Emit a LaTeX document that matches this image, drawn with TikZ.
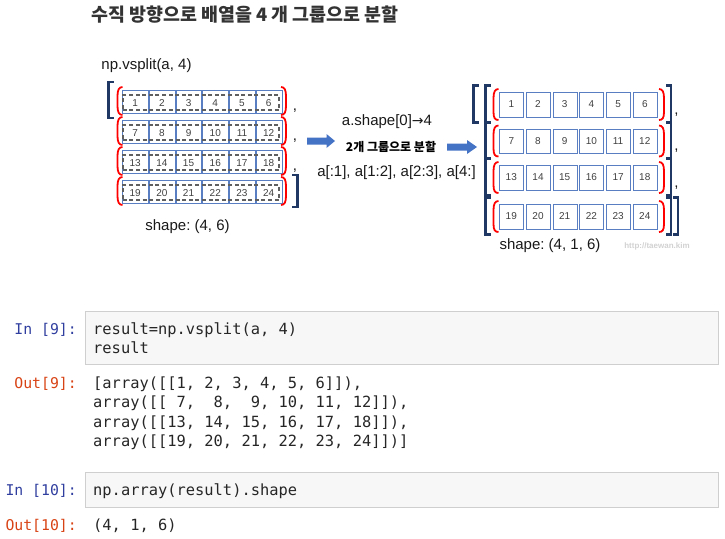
\documentclass[tikz,border=0pt]{standalone}
\usepackage{fontspec}
\setmainfont{Liberation Sans}
\newfontfamily\kr{Noto Sans CJK KR}
\newfontfamily\mono{DejaVu Sans Mono}
\newfontfamily\dejavu{DejaVu Sans}
\definecolor{navy}{HTML}{1F3864}
\definecolor{cellblue}{HTML}{5A7EC2}
\definecolor{arrowblue}{HTML}{4472C4}
\definecolor{dgray}{HTML}{5F5F5F}
\definecolor{numgray}{HTML}{404040}
\definecolor{inblue}{HTML}{303F9F}
\definecolor{outred}{HTML}{D84315}
\definecolor{codebg}{HTML}{F7F7F7}
\definecolor{codeborder}{HTML}{CFCFCF}
\definecolor{parred}{HTML}{FF0000}
\definecolor{titlegray}{HTML}{333333}
\begin{document}
\frenchspacing
\begin{tikzpicture}[x=1pt,y=-1pt,
  cellbox/.style={draw=cellblue,line width=0.8pt,minimum width=#1,minimum height=23pt,inner sep=0pt,anchor=north west},
  rcellbox/.style={draw=cellblue,line width=0.8pt,minimum width=24pt,minimum height=24.5pt,inner sep=0pt,anchor=north west},
  numtext/.style={inner sep=0pt,font=\fontsize{10}{12}\selectfont,text=numgray},
  dashbox/.style={draw=dgray,line width=1.9pt,dash pattern=on 4pt off 2.6pt,minimum width=156pt,minimum height=15pt,inner sep=0pt},
  redpar/.style={draw=parred,line width=1.8pt},
  navybr/.style={draw=navy,line width=2.2pt},
  lbl/.style={inner sep=0pt,font=\fontsize{15}{18}\selectfont,text=black!90},
  blockarrow/.style={fill=arrowblue},
  codebox/.style={draw=codeborder,fill=codebg,line width=0.8pt,inner sep=0pt,anchor=north west},
  codetext/.style={inner sep=0pt,anchor=base west,font=\mono\fontsize{15.4}{19}\selectfont,text=black!85},
  inlbl/.style={inner sep=0pt,anchor=base east,font=\mono\fontsize{14.8}{19}\selectfont,text=inblue},
  outlbl/.style={inner sep=0pt,anchor=base east,font=\mono\fontsize{14.8}{19}\selectfont,text=outred}
]
\useasboundingbox (0,0) rectangle (725,538);

% title
\node[inner sep=0pt,font=\kr\bfseries\fontsize{18.4}{22}\selectfont,text=titlegray] (title) at (245,15) {수직 방향으로 배열을 4 개 그룹으로 분할};

% ---------- left grid ----------
\node[lbl] (vsplit) at (146.5,66) {np.vsplit(a, 4)};
\foreach \r in {0,1,2,3}{
  \pgfmathsetmacro{\T}{90+30*\r}
  \foreach \i in {0,...,5}{
    \pgfmathtruncatemacro{\n}{6*\r+\i+1}
    \node[cellbox=25.7pt] (L-\n) at ({122.3+26.7*\i},\T) {};
    \node[numtext] (Ln-\n) at ({122.3+26.7*\i+12.85},{\T+13.5}) {\n};
  }
  \node[dashbox] (D-\r) at (200.8,{\T+12.5}) {};
  % red parens
  \draw[redpar] (122.5,{\T-3}) .. controls (119,{\T-3}) and (117.5,{\T}) .. (117.5,{\T+6})
     -- (117.5,{\T+16}) .. controls (117.5,{\T+22}) and (119,{\T+25}) .. (122.5,{\T+25});
  \draw[redpar] (281,{\T-3}) .. controls (284.5,{\T-3}) and (286,{\T}) .. (286,{\T+6})
     -- (286,{\T+16}) .. controls (286,{\T+22}) and (284.5,{\T+25}) .. (281,{\T+25});
}
\foreach \r in {0,1,2}{
  \node[lbl,anchor=base] (Lc-\r) at (295,{110+30*\r}) {,};
}
\draw[navybr] (113.5,82) -- (108.5,82) -- (108.5,118) -- (113.5,118);
\draw[navybr] (292,175) -- (297.5,175) -- (297.5,207) -- (292,207);
\node[lbl] (shapeL) at (187.5,227) {shape: (4, 6)};

% ---------- middle ----------
\node[lbl] (ashape) at (387,122) {a.shape[0]{\dejavu\fontsize{14}{16}\selectfont →}4};
\fill[blockarrow] (307,137.5) -- (326.5,137.5) -- (326.5,134) -- (335,141) -- (326.5,148) -- (326.5,144.5) -- (307,144.5) -- cycle;
\node[inner sep=0pt,font=\kr\bfseries\fontsize{12}{14}\selectfont,text=black] (grp) at (391,146.5) {2개 그룹으로 분할};
\fill[blockarrow] (447,143.5) -- (467,143.5) -- (467,140) -- (477,147) -- (467,154) -- (467,150.5) -- (447,150.5) -- cycle;
\node[lbl] (slices) at (396.5,173) {a[:1], a[1:2], a[2:3], a[4:]};

% ---------- right grid ----------
\foreach \r/\T in {0/92,1/128.5,2/165,3/204}{
  \foreach \i in {0,...,5}{
    \pgfmathtruncatemacro{\n}{6*\r+\i+1}
    \node[rcellbox] (R-\n) at ({499.3+26.7*\i},\T) {};
    \node[numtext] (Rn-\n) at ({499.3+26.7*\i+12},{\T+12.5}) {\n};
  }
  \draw[redpar] (498.5,{\T-3}) .. controls (495,{\T-3}) and (493.5,{\T}) .. (493.5,{\T+6})
     -- (493.5,{\T+20}) .. controls (493.5,{\T+26}) and (495,{\T+28}) .. (498.5,{\T+28});
  \draw[redpar] (659,{\T-3}) .. controls (662.5,{\T-3}) and (664,{\T}) .. (664,{\T+6})
     -- (664,{\T+20}) .. controls (664,{\T+26}) and (662.5,{\T+28}) .. (659,{\T+28});
  \draw[navybr] (490.5,{\T-6.5}) -- (485.5,{\T-6.5}) -- (485.5,{\T+30.5}) -- (490.5,{\T+30.5});
  \draw[navybr] (666,{\T-6.5}) -- (671,{\T-6.5}) -- (671,{\T+30.5}) -- (666,{\T+30.5});
}
\draw[navybr] (478.5,85.5) -- (473.5,85.5) -- (473.5,122.5) -- (478.5,122.5);
\draw[navybr] (673,197.5) -- (678,197.5) -- (678,234.5) -- (673,234.5);
\foreach \r/\T in {0/92,1/128.5,2/165}{
  \node[lbl,anchor=base] (Rc-\r) at (676.5,{\T+22}) {,};
}
\node[lbl] (shapeR) at (550,246) {shape: (4, 1, 6)};
\node[inner sep=0pt,font=\bfseries\fontsize{8}{10}\selectfont,text=black!18] (wm) at (657,246) {http://taewan.kim};

% ---------- code cells ----------
\node[codebox,minimum width=633pt,minimum height=53pt] (cell1) at (85,311) {};
\node[inlbl] (in9) at (77,334.5) {In [9]:};
\node[codetext] (c1a) at (93,334.5) {result=np.vsplit(a, 4)};
\node[codetext] (c1b) at (93,353.5) {result};
\node[outlbl] (out9) at (77,388) {Out[9]:};
\node[codetext] (o1) at (93,388) {[array([[1, 2, 3, 4, 5, 6]]),};
\node[codetext] (o2) at (93,407.5) {array([[ 7,\ \ 8,\ \ 9, 10, 11, 12]]),};
\node[codetext] (o3) at (93,427) {array([[13, 14, 15, 16, 17, 18]]),};
\node[codetext] (o4) at (93,446.5) {array([[19, 20, 21, 22, 23, 24]])]};

\node[codebox,minimum width=633pt,minimum height=35pt] (cell2) at (85,472) {};
\node[inlbl] (in10) at (77,495) {In [10]:};
\node[codetext] (c2) at (93,495) {np.array(result).shape};
\node[outlbl] (out10) at (77,530) {Out[10]:};
\node[codetext] (o5) at (93,530) {(4, 1, 6)};
\end{tikzpicture}
\end{document}
